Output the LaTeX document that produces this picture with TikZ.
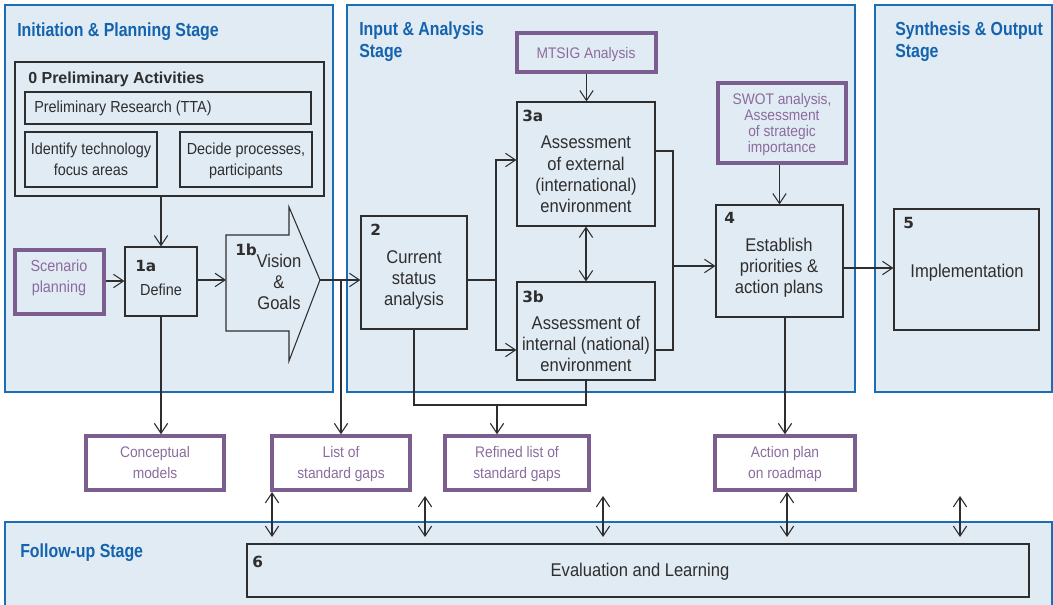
\documentclass[tikz,border=0pt]{standalone}
\usepackage{fontspec}
\setmainfont{Liberation Sans}
\newfontfamily\bodyfont[FakeStretch=0.9]{Liberation Sans}
\newfontfamily\headfont[FakeStretch=0.84]{Liberation Sans}
\newfontfamily\numfont{DejaVu Sans}
\usetikzlibrary{arrows.meta,fit}
\definecolor{panelfill}{HTML}{E1EBF4}
\definecolor{panelline}{HTML}{1B6DB5}
\definecolor{headblue}{HTML}{1463AE}
\definecolor{plum}{HTML}{7B5E8F}
\definecolor{plumtext}{HTML}{8A6C9C}
\definecolor{ink}{HTML}{2E2E2E}
\tikzset{
  panel/.style={draw=panelline, fill=panelfill, line width=1.5pt, inner sep=0pt},
  stepbox/.style={draw=ink, line width=0.8pt, inner sep=0pt},
  inputbox/.style={draw=plum, line width=2.6pt, inner sep=0pt},
  head/.style={font=\headfont\bfseries\fontsize{14.2}{16.5}\selectfont, text=headblue, anchor=base west, inner sep=0pt, align=left},
  num/.style={font=\numfont\bfseries\fontsize{11.5}{13}\selectfont, text=ink, anchor=base west, inner sep=0pt},
  big/.style={font=\bodyfont\fontsize{13.8}{16}\selectfont, text=ink, align=center, inner sep=0pt, anchor=base},
  small/.style={font=\bodyfont\fontsize{12}{15.75}\selectfont, text=ink, align=center, inner sep=0pt, anchor=base},
  plumtxt/.style={font=\bodyfont\fontsize{11.5}{15.75}\selectfont, text=plumtext, align=center, inner sep=0pt, anchor=base},
  tip/.tip={Straight Barb[length=7.5pt,width=10pt]},
  link/.style={draw=ink, line width=0.8pt, -tip},
  line/.style={draw=ink, line width=0.8pt},
  twoway/.style={draw=ink, line width=0.8pt, tip-tip},
}
\begin{document}
\begin{tikzpicture}[x=0.75pt,y=-0.75pt]
\useasboundingbox (0,0) rectangle (1053,605);

% stage panels
\node[panel, fit={(5,5)(333,392)}] (pinit) {};
\node[panel, fit={(347,5)(855,392)}] (pinput) {};
\node[panel, fit={(875,5)(1052,392)}] (psynth) {};
\node[panel, fit={(5,522)(1052,620)}] (pfollow) {};

% stage headings (node base = last line's baseline)
\node[head] (hinit) at (17,37) {Initiation \& Planning Stage};
\node[head] (hinput) at (359,58) {Input \& Analysis\\Stage};
\node[head] (hsynth) at (895,58) {Synthesis \& Output\\Stage};
\node[head] (hfollow) at (20,557) {Follow-up Stage};

% stage 0
\node[stepbox, fit={(15,62)(324,196)}] (prelim) {};
\node[anchor=base west, inner sep=0pt, text=ink, font=\bfseries\fontsize{12}{14}\selectfont] (prelimt) at (28,84) {0 Preliminary Activities};
\node[stepbox, fit={(25,92)(311,124)}] (research) {};
\node[small, anchor=base west] (researcht) at (34,113) {Preliminary Research (TTA)};
\node[stepbox, fit={(25,132)(157,187)}] (identify) {};
\node[small] (identifyt) at (91,176) {Identify technology\\focus areas};
\node[stepbox, fit={(180,132)(312,187)}] (decide) {};
\node[small] (decidet) at (246,176) {Decide processes,\\participants};

% stage 1
\node[inputbox, fit={(15,250)(104,314)}] (scen) {};
\node[plumtxt, font=\bodyfont\fontsize{12}{15.75}\selectfont] (scent) at (59,293) {Scenario\\planning};
\node[stepbox, fit={(125,247)(197,316)}] (n1a) {};
\node[num] (n1an) at (135,272) {1a};
\node[small] (n1at) at (161,296) {Define};

\draw[stepbox] (226,235) -- (289,235) -- (289,207) -- (320,280) -- (289,361) -- (289,331) -- (226,331) -- cycle;
\coordinate (b1west) at (226,280);
\coordinate (b1tip) at (320,280);
\node[num] (n1bn) at (235,256) {1b};
\node[big, font=\bodyfont\fontsize{13.8}{15.75}\selectfont] (n1bt) at (279,310) {Vision\\\&\\Goals};

% stages 2 to 5
\node[stepbox, fit={(361,216)(467,329)}] (n2) {};
\node[num] (n2n) at (370,236) {2};
\node[big] (n2t) at (414,306) {Current\\status\\analysis};

\node[inputbox, fit={(517,33)(656,72)}] (mtsig) {};
\node[plumtxt] (mtsigt) at (586,59) {MTSIG Analysis};

\node[stepbox, fit={(517,102)(655,226)}] (n3a) {};
\node[num] (n3an) at (522,122) {3a};
\node[big] (n3at) at (586,213) {Assessment\\of external\\(international)\\environment};

\node[stepbox, fit={(517,282)(655,380)}] (n3b) {};
\node[num] (n3bn) at (522,303) {3b};
\node[big] (n3bt) at (586,372) {Assessment of\\internal (national)\\environment};

\node[inputbox, fit={(718,83)(846,163)}] (swot) {};
\node[plumtxt, font=\bodyfont\fontsize{11.5}{12}\selectfont] (swott) at (782,153) {SWOT analysis,\\Assessment\\of strategic\\importance};

\node[stepbox, fit={(716,205)(843,317)}] (n4) {};
\node[num] (n4n) at (724,224) {4};
\node[big] (n4t) at (779,294) {Establish\\priorities \&\\action plans};

\node[stepbox, fit={(894,209)(1039,330)}] (n5) {};
\node[num] (n5n) at (903,229) {5};
\node[big] (n5t) at (967,278) {Implementation};

% outputs
\node[inputbox, fit={(86,436)(224,490)}] (concept) {};
\node[plumtxt] (conceptt) at (155,479) {Conceptual\\models};
\node[inputbox, fit={(272,436)(410,490)}] (list) {};
\node[plumtxt] (listt) at (341,479) {List of\\standard gaps};
\node[inputbox, fit={(445,436)(589,490)}] (refined) {};
\node[plumtxt] (refinedt) at (517,479) {Refined list of\\standard gaps};
\node[inputbox, fit={(715,436)(855,490)}] (action) {};
\node[plumtxt] (actiont) at (785,479) {Action plan\\on roadmap};

% stage 6
\node[stepbox, fit={(247,544)(1029,597)}] (n6) {};
\node[num] (n6n) at (252,567) {6};
\node[big] (n6t) at (640,576) {Evaluation and Learning};

% connectors
\draw[link] (prelim.south -| n1a) -- (n1a.north);
\draw[link] (scen.east |- 0,281) -- (n1a.west |- 0,281);
\draw[link] (n1a.east |- b1west) -- (b1west);
\draw[link] (b1tip) -- (b1tip -| n2.west);
\draw[link] (b1tip -| list) -- (list.north);
\draw[link] (n1a.south) -- (n1a.south |- concept.north);

\coordinate (split) at (496,280);
\draw[line] (n2.east |- split) -- (split);
\draw[link] (split) |- (n3a.west |- 0,160);
\draw[link] (split) |- (n3b.west |- 0,350);

\draw[link] (mtsig.south) -- (mtsig.south |- n3a.north);
\draw[twoway] (n3a.south) -- (n3b.north);

\coordinate (mtop) at (673,151);
\coordinate (mbot) at (673,350);
\coordinate (merge) at (673,266);
\draw[line] (n3a.east |- mtop) -- (mtop) -- (mbot) -- (n3b.east |- mbot);
\draw[link] (merge) -- (merge -| n4.west);

\draw[link] (swot.south -| n4.north) -- (n4.north);
\draw[link] (n4.east |- 0,268) -- (n5.west |- 0,268);
\draw[link] (n4.south -| action) -- (action.north);

\coordinate (gapbus) at (497,405);
\draw[line] (n2.south) |- (n3b.south |- gapbus) -- (n3b.south);
\draw[link] (gapbus) -- (gapbus |- refined.north);

% follow-up links
\foreach \x/\t [count=\i] in {272/492, 425/496, 603/496, 787/492, 960/496} {
  \coordinate (fu\i top) at (\x,\t);
  \coordinate (fu\i bot) at (\x,537);
  \draw[twoway] (fu\i top) -- (fu\i bot);
}
\end{tikzpicture}
\end{document}
